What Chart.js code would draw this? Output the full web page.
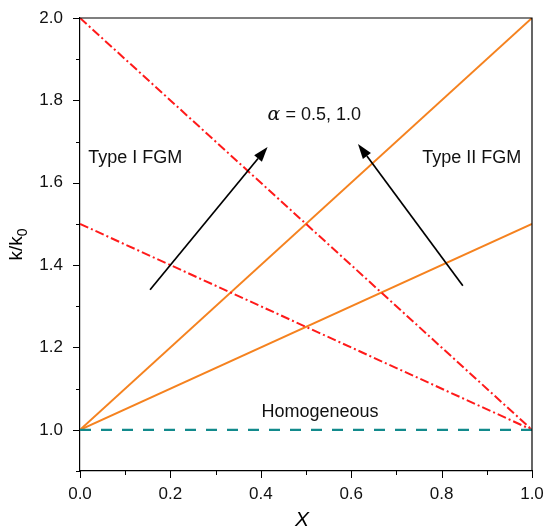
<!DOCTYPE html>
<html>
<head>
<meta charset="utf-8">
<script src="https://cdn.jsdelivr.net/npm/chart.js@4.4.1/dist/chart.umd.min.js"></script>
<style>
  html, body { margin: 0; padding: 0; background: #fff; }
  #wrap { width: 544px; height: 531px; }
</style>
</head>
<body>
<div id="wrap"><canvas id="chart" width="544" height="531"></canvas></div>
<script>
// k/k0 vs X for Type I / Type II FGM

const xValues = [0, 1];
const typeIIAlpha05 = [1.0, 1.5];
const typeIIAlpha10 = [1.0, 2.0];
const typeIAlpha05 = [1.5, 1.0];
const typeIAlpha10 = [2.0, 1.0];
const homogeneous = [1.0, 1.0];

const xTicks = [0, 0.2, 0.4, 0.6, 0.8, 1.0];
const yTicks = [1.0, 1.2, 1.4, 1.6, 1.8, 2.0];

// arrows in data units: [x0, y0, x1, y1]
const arrows = [
  [0.155, 1.34, 0.415, 1.687],
  [0.847, 1.35, 0.615, 1.694]
];

const font = '"Liberation Sans", Arial, Helvetica, sans-serif';

function toPoints(ys) {
  return xValues.map((x, i) => ({ x: x, y: ys[i] }));
}

const decorPlugin = {
  id: 'decor',
  afterDraw(chart) {
    const c = chart.ctx;
    const xs = chart.scales.x;
    const ys = chart.scales.y;
    const a = chart.chartArea;

    c.save();
    // frame (top and right)
    c.strokeStyle = '#000';
    c.lineWidth = 1.2;
    c.beginPath();
    c.moveTo(a.left, a.top);
    c.lineTo(a.right, a.top);
    c.lineTo(a.right, a.bottom);
    c.stroke();

    // tick marks, major and minor
    c.lineWidth = 1;
    for (let i = 0; i <= 10; i++) {
      const px = Math.round(xs.getPixelForValue(i / 10)) + 0.5;
      const len = i % 2 === 0 ? 7 : 4;
      c.beginPath();
      c.moveTo(px, a.bottom);
      c.lineTo(px, a.bottom + len);
      c.stroke();
    }
    for (let i = 9; i <= 20; i++) {
      const py = Math.round(ys.getPixelForValue(i / 10)) + 0.5;
      const len = i % 2 === 0 ? 7 : 4;
      c.beginPath();
      c.moveTo(a.left, py);
      c.lineTo(a.left - len, py);
      c.stroke();
    }

    // arrows
    c.strokeStyle = '#000';
    c.fillStyle = '#000';
    c.lineWidth = 1.7;
    arrows.forEach(ar => {
      const x0 = xs.getPixelForValue(ar[0]);
      const y0 = ys.getPixelForValue(ar[1]);
      const x1 = xs.getPixelForValue(ar[2]);
      const y1 = ys.getPixelForValue(ar[3]);
      const ang = Math.atan2(y1 - y0, x1 - x0);
      const hl = 15, hw = 5;
      const bx = x1 - hl * Math.cos(ang);
      const by = y1 - hl * Math.sin(ang);
      c.beginPath();
      c.moveTo(x0, y0);
      c.lineTo(bx, by);
      c.stroke();
      c.beginPath();
      c.moveTo(x1, y1);
      c.lineTo(bx + hw * Math.sin(ang), by - hw * Math.cos(ang));
      c.lineTo(bx - hw * Math.sin(ang), by + hw * Math.cos(ang));
      c.closePath();
      c.fill();
    });

    // labels
    c.fillStyle = '#111';
    c.font = '18px ' + font;
    c.textBaseline = 'middle';
    c.textAlign = 'left';
    c.fillText('Type I FGM', xs.getPixelForValue(0.018), ys.getPixelForValue(1.659));
    c.fillText('Type II FGM', xs.getPixelForValue(0.757), ys.getPixelForValue(1.659));
    c.textAlign = 'center';
    c.fillText('Homogeneous', xs.getPixelForValue(0.531), ys.getPixelForValue(1.042));

    // alpha label
    const ay = ys.getPixelForValue(1.765);
    const serif = 'italic 19px "DejaVu Serif", "Liberation Serif", serif';
    c.textAlign = 'left';
    c.font = serif;
    const alphaW = c.measureText('\u03b1').width;
    let sx = xs.getPixelForValue(0.415);
    c.fillText('\u03b1', sx, ay);
    c.font = '18px ' + font;
    c.fillText(' = 0.5, 1.0', sx + alphaW, ay);

    // x title
    c.fillStyle = '#000';
    c.font = 'italic 21px ' + font;
    c.textAlign = 'center';
    c.fillText('X', 302, 520);

    // y title k/k0
    c.translate(17, (a.top + a.bottom) / 2);
    c.rotate(-Math.PI / 2);
    c.font = '19px ' + font;
    const t1 = 'k/k';
    const w1 = c.measureText(t1).width;
    c.font = '14px ' + font;
    const w2 = c.measureText('0').width;
    c.font = '19px ' + font;
    c.textAlign = 'left';
    c.fillText(t1, -(w1 + w2) / 2, 0);
    c.font = '14px ' + font;
    c.fillText('0', -(w1 + w2) / 2 + w1, 6);
    c.restore();
  }
};

new Chart(document.getElementById('chart'), {
  type: 'scatter',
  data: {
    datasets: [
      {
        label: 'Homogeneous',
        data: toPoints(homogeneous),
        borderColor: '#128a8c',
        borderWidth: 2.2,
        borderDash: [11, 10]
      },
      {
        label: 'Type I, alpha 0.5',
        data: toPoints(typeIAlpha05),
        borderColor: '#ff1a1a',
        borderWidth: 2,
        borderDash: [9, 3, 2, 3]
      },
      {
        label: 'Type I, alpha 1.0',
        data: toPoints(typeIAlpha10),
        borderColor: '#ff1a1a',
        borderWidth: 2,
        borderDash: [9, 3, 2, 3]
      },
      {
        label: 'Type II, alpha 0.5',
        data: toPoints(typeIIAlpha05),
        borderColor: '#f5821f',
        borderWidth: 2
      },
      {
        label: 'Type II, alpha 1.0',
        data: toPoints(typeIIAlpha10),
        borderColor: '#f5821f',
        borderWidth: 2
      }
    ].map(d => Object.assign(d, { showLine: true, pointRadius: 0, fill: false }))
  },
  options: {
    responsive: false,
    animation: false,
    layout: { padding: { top: 18, right: 12, left: 0, bottom: 0 } },
    plugins: {
      legend: { display: false },
      tooltip: { enabled: false }
    },
    scales: {
      x: {
        type: 'linear',
        min: 0,
        max: 1,
        afterBuildTicks: s => { s.ticks = xTicks.map(v => ({ value: v })); },
        afterFit: s => { s.height = 60; s.paddingLeft = 0; s.paddingRight = 0; },
        grid: { display: false, drawTicks: false },
        border: { display: true, color: '#000', width: 1.2 },
        ticks: {
          color: '#111',
          padding: 13,
          maxRotation: 0,
          font: { family: font, size: 17 },
          callback: v => v.toFixed(1)
        }
      },
      y: {
        type: 'linear',
        min: 0.9,
        max: 2.0,
        afterBuildTicks: s => { s.ticks = yTicks.map(v => ({ value: v })); },
        afterFit: s => { s.width = 80; s.paddingTop = 0; s.paddingBottom = 0; },
        grid: { display: false, drawTicks: false },
        border: { display: true, color: '#000', width: 1.2 },
        ticks: {
          color: '#111',
          padding: 17,
          font: { family: font, size: 17 },
          callback: v => v.toFixed(1)
        }
      }
    }
  },
  plugins: [decorPlugin]
});
</script>
</body>
</html>
